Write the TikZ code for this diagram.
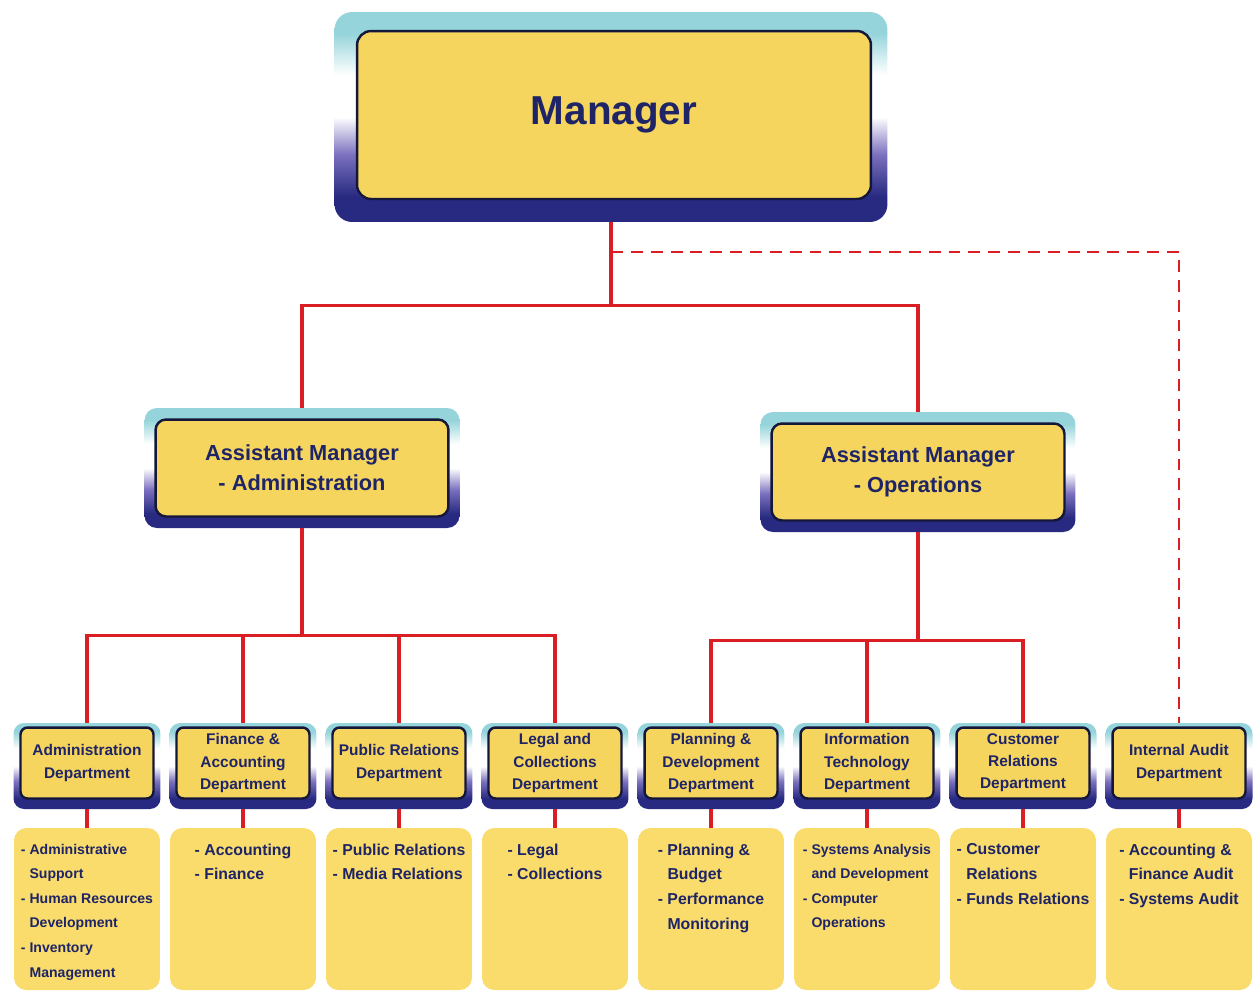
\documentclass[tikz,border=0pt]{standalone}
\usepackage{fontspec}
\setmainfont{Liberation Sans}
\usetikzlibrary{positioning,calc}
\definecolor{cardyellow}{HTML}{F5D55E}
\definecolor{dutyyellow}{HTML}{F9DC6C}
\definecolor{inknavy}{HTML}{1E2466}
\definecolor{rimdark}{HTML}{15173A}
\definecolor{framenavy}{HTML}{272A80}
\definecolor{framepurple}{HTML}{7A70BE}
\definecolor{framecyan}{HTML}{94D4DA}
\definecolor{linkred}{HTML}{D91E24}
\pgfdeclareverticalshading{frameshade}{100bp}{color(0bp)=(framenavy); color(31bp)=(framenavy); color(41bp)=(framepurple); color(50bp)=(white); color(60bp)=(white); color(70bp)=(framecyan); color(100bp)=(framecyan)}
\newcommand{\dutyind}{\phantom{- }}
\tikzstyle{rim}=[rectangle,draw=none,shade,shading=frameshade,rounded corners=6pt,inner sep=0pt]
\tikzstyle{card}=[rectangle,rounded corners=4pt,draw=rimdark,line width=1.4pt,fill=cardyellow,text=inknavy,font=\bfseries,align=center,inner sep=2pt]
\tikzstyle{duty}=[rectangle,rounded corners=7pt,fill=dutyyellow,minimum width=2.92cm,minimum height=3.24cm,inner sep=0pt]
\tikzstyle{dutytext}=[text=inknavy,align=left,anchor=north,inner sep=0pt]
\tikzstyle{link}=[draw=linkred,line width=1.8pt]
\tikzstyle{auditlink}=[draw=linkred,line width=1.4pt,dash pattern=on 6.8pt off 4.5pt]

\begin{document}
\begin{tikzpicture}[x=0.02cm,y=-0.02cm]
    \useasboundingbox (0,0) rectangle (1254,992);

    % top levels
    \node[rim,minimum width=11.06cm,minimum height=4.2cm,rounded corners=10pt] (mgr-rim) at (611,117) {};
    \node[card,minimum width=10.28cm,minimum height=3.36cm,rounded corners=8pt,font=\bfseries\fontsize{23}{28}\selectfont] (mgr) at (614,115) {Manager};

    \foreach \pos/\name/\label in {{(302,468)/amA/{Assistant Manager\\- Administration}}, {(918,472)/amO/{Assistant Manager\\- Operations}}}
    {
        \node[rim,minimum width=6.3cm,minimum height=2.4cm,rounded corners=7pt] (\name-rim) at \pos {};
        \node[card,minimum width=5.86cm,minimum height=1.94cm,rounded corners=6pt,font=\bfseries\fontsize{12.4}{17}\selectfont] (\name) at \pos {\label};
    }

    % departments
    \foreach \x/\name/\label in {87/adm/{Administration\\Department}, 243/fin/{Finance \&\\Accounting\\Department}, 399/pr/{Public Relations\\Department}, 555/leg/{Legal and\\Collections\\Department}, 711/pln/{Planning \&\\Development\\Department}, 867/it/{Information\\Technology\\Department}, 1023/cus/{Customer\\Relations\\Department}, 1179/aud/{Internal Audit\\Department}}
    {
        \node[rim,minimum width=2.94cm,minimum height=1.72cm] (\name-rim) at (\x,766) {};
        \node[card,minimum width=2.66cm,minimum height=1.42cm,font=\bfseries\fontsize{8.8}{12.6}\selectfont] (\name) at (\x,763) {\label};
        \node[duty] (\name-duty) at (\x,909) {};
        \draw[link] (\name-rim.south) -- (\name-duty.north);
    }

    % duties
    \foreach \name/\size/\duties in {adm/8/{- Administrative\\\dutyind Support\\- Human Resources\\\dutyind Development\\- Inventory\\\dutyind Management}, fin/9/{- Accounting\\- Finance}, pr/9/{- Public Relations\\- Media Relations}, leg/9/{- Legal\\- Collections}, pln/9/{- Planning \&\\\dutyind Budget\\- Performance\\\dutyind Monitoring}, it/8/{- Systems Analysis\\\dutyind and Development\\- Computer\\\dutyind Operations}, cus/9/{- Customer\\\dutyind Relations\\- Funds Relations}, aud/9/{- Accounting \&\\\dutyind Finance Audit\\- Systems Audit}}
        \node[dutytext,font=\bfseries\fontsize{\size}{14}\selectfont] (\name-list) at ([yshift=-9pt]\name-duty.north) {\duties};

    % connectors
    \coordinate (hub) at ($(mgr-rim.south)+(0,83)$);
    \coordinate (tap) at ($(mgr-rim.south)!0.36!(hub)$);
    \path[link] (mgr-rim.south) -- (hub);
    \path[link] (amA-rim.north) |- (hub) -| (amO-rim.north);
    \path[auditlink] (tap) -| (aud-rim.north);

    \coordinate (admBus) at ($(amA-rim.south)+(0,107)$);
    \coordinate (opsBus) at ($(amO-rim.south)+(0,108)$);
    \foreach \dest in {adm,fin,pr,leg}
        \path[link] (amA-rim.south) -- (admBus) -| (\dest-rim.north);
    \foreach \dest in {pln,it,cus}
        \path[link] (amO-rim.south) -- (opsBus) -| (\dest-rim.north);

\end{tikzpicture}
\end{document}
